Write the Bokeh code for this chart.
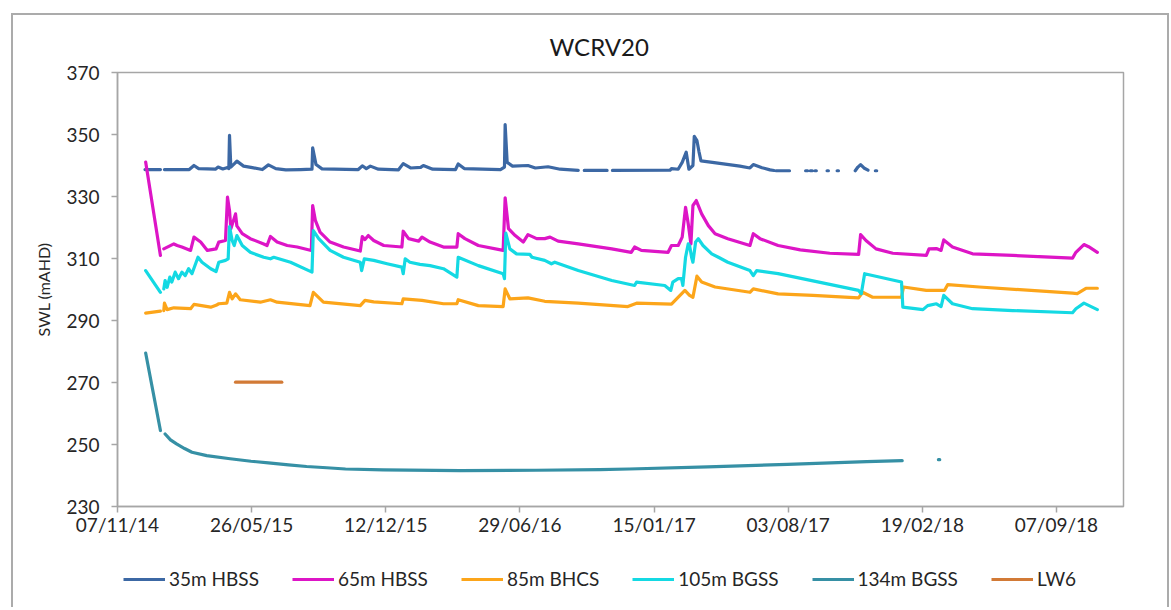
import pandas as pd
from bokeh.plotting import figure
from bokeh.layouts import column
from bokeh.models import Range1d, FixedTicker, DatetimeTickFormatter, Legend, LegendItem
from bokeh.embed import file_html
from bokeh.resources import INLINE

NaN = float("nan")

# ---------------- data ----------------
series_names = ["35m HBSS", "65m HBSS", "85m BHCS", "105m BGSS", "134m BGSS", "LW6"]

h35_dates = [
    "2014-12-18", "2015-01-10", "2015-01-12", "2015-01-16", "2015-02-22", "2015-03-01", "2015-03-08",
    "2015-04-02", "2015-04-06", "2015-04-13", "2015-04-19", "2015-04-22", "2015-04-23", "2015-04-25",
    "2015-04-30", "2015-05-04", "2015-05-14", "2015-05-27", "2015-06-11", "2015-06-20", "2015-07-01",
    "2015-07-16", "2015-08-07", "2015-08-24", "2015-08-25", "2015-08-30", "2015-09-08", "2015-11-01",
    "2015-11-07", "2015-11-13", "2015-11-19", "2015-12-01", "2015-12-31", "2016-01-07", "2016-01-18",
    "2016-02-02", "2016-02-06", "2016-02-20", "2016-03-25", "2016-03-29", "2016-04-07", "2016-05-31",
    "2016-06-06", "2016-06-07", "2016-06-10", "2016-06-18", "2016-07-11", "2016-07-22", "2016-08-10",
    "2016-08-28", "2016-09-24", "2016-09-28", "2016-10-03", "2016-11-06", "2016-11-10", "2016-11-14",
    "2017-02-08", "2017-02-10", "2017-02-20", "2017-02-26", "2017-03-04", "2017-03-08", "2017-03-14",
    "2017-03-16", "2017-03-20", "2017-03-23", "2017-03-26", "2017-04-12", "2017-05-23", "2017-06-07",
    "2017-06-12", "2017-06-25", "2017-07-07", "2017-07-13", "2017-07-14", "2017-07-16", "2017-08-05",
    "2017-08-15", "2017-08-29", "2017-09-01", "2017-09-03", "2017-09-05", "2017-09-08", "2017-09-10",
    "2017-09-12", "2017-09-14", "2017-09-20", "2017-09-30", "2017-10-02", "2017-10-08", "2017-10-15",
    "2017-10-17", "2017-10-25", "2017-11-11", "2017-11-15", "2017-11-19", "2017-11-24", "2017-11-30",
    "2017-12-05", "2017-12-11", "2017-12-13",
]
h35_vals = [
    338.7, 338.7, NaN, 338.7, 338.7, 340.0, 339.0,
    338.8, 339.5, 338.9, 339.3, 339.0, 349.7, 339.5,
    340.5, 341.4, 339.8, 339.3, 338.7, 340.2, 339.0,
    338.6, 338.7, 338.8, 345.7, 340.3, 338.9, 338.7,
    339.9, 339.0, 339.8, 338.8, 338.6, 340.6, 339.2,
    339.4, 340.0, 338.8, 338.7, 340.5, 339.0, 338.7,
    339.5, 353.2, 341.0, 339.8, 340.0, 339.2, 339.6,
    338.8, 338.4, NaN, 338.4, 338.4, NaN, 338.4,
    338.5, 339.0, 338.8, 341.0, 344.3, 338.8, 340.0,
    349.4, 348.0, 344.5, 341.5, 341.0, 339.8, 339.2,
    340.3, 339.3, 338.6, 338.4, NaN, 338.3, 338.3,
    NaN, 338.3, 338.3, NaN, 338.3, 338.3, NaN,
    338.3, 338.3, NaN, 338.3, 338.3, NaN, 338.3,
    338.3, NaN, 338.3, 339.5, 340.3, 339.2, 338.5,
    NaN, 338.3, 338.3,
]

h65_dates = [
    "2014-12-19", "2015-01-10", "2015-01-12", "2015-01-15", "2015-01-30", "2015-02-04", "2015-02-11",
    "2015-02-24", "2015-03-01", "2015-03-11", "2015-03-21", "2015-04-03", "2015-04-07", "2015-04-17",
    "2015-04-20", "2015-04-23", "2015-04-25", "2015-04-29", "2015-05-02", "2015-05-04", "2015-05-12",
    "2015-05-24", "2015-06-13", "2015-06-18", "2015-06-23", "2015-07-03", "2015-07-18", "2015-08-02",
    "2015-08-23", "2015-08-25", "2015-08-29", "2015-09-05", "2015-09-20", "2015-10-10", "2015-11-04",
    "2015-11-07", "2015-11-11", "2015-11-16", "2015-11-24", "2015-12-09", "2016-01-05", "2016-01-07",
    "2016-01-15", "2016-01-30", "2016-02-04", "2016-02-16", "2016-03-07", "2016-03-27", "2016-03-29",
    "2016-04-08", "2016-04-28", "2016-06-04", "2016-06-07", "2016-06-12", "2016-06-22", "2016-07-04",
    "2016-07-11", "2016-07-24", "2016-08-05", "2016-08-13", "2016-08-25", "2016-09-24", "2016-11-13",
    "2016-12-12", "2016-12-17", "2016-12-27", "2017-02-05", "2017-02-10", "2017-02-20", "2017-02-26",
    "2017-03-03", "2017-03-07", "2017-03-11", "2017-03-14", "2017-03-19", "2017-03-27", "2017-04-06",
    "2017-04-16", "2017-05-05", "2017-06-07", "2017-06-12", "2017-06-22", "2017-07-19", "2017-08-21",
    "2017-10-04", "2017-11-16", "2017-11-19", "2017-11-27", "2017-12-12", "2018-01-06", "2018-02-25",
    "2018-03-01", "2018-03-12", "2018-03-19", "2018-03-23", "2018-04-05", "2018-05-05", "2018-07-04",
    "2018-10-01", "2018-10-06", "2018-10-18", "2018-10-25", "2018-11-07",
]
h65_vals = [
    341.1, 311.0, NaN, 313.1, 314.7, 314.2, 313.7,
    312.6, 316.9, 315.3, 312.6, 313.1, 315.3, 315.8,
    329.8, 325.5, 319.6, 322.3, 324.4, 320.5, 318.0,
    316.4, 314.7, 314.2, 317.1, 315.3, 314.2, 313.7,
    312.6, 327.1, 322.3, 318.5, 315.3, 313.7, 312.4,
    317.1, 316.1, 317.4, 315.8, 314.2, 313.7, 318.8,
    316.4, 315.6, 316.9, 315.3, 313.7, 313.7, 318.0,
    316.4, 314.2, 312.6, 329.6, 319.6, 317.4, 315.3,
    317.7, 316.4, 316.4, 316.9, 315.6, 314.7, 313.1,
    312.0, 313.7, 312.6, 312.0, 314.2, 314.2, 316.9,
    326.5, 321.2, 314.7, 327.1, 328.7, 324.4, 320.6,
    318.0, 316.4, 314.2, 318.0, 316.4, 314.2, 312.8,
    311.7, 311.3, 317.7, 315.8, 313.1, 311.7, 311.0,
    313.1, 313.2, 312.6, 316.0, 313.7, 311.5, 311.0,
    310.1, 312.0, 314.5, 313.8, 312.0,
]

h85_dates = [
    "2014-12-19", "2015-01-10", "2015-01-12", "2015-01-15", "2015-01-16", "2015-01-20", "2015-01-30",
    "2015-02-24", "2015-03-01", "2015-03-26", "2015-04-03", "2015-04-07", "2015-04-19", "2015-04-23",
    "2015-04-27", "2015-05-02", "2015-05-09", "2015-06-08", "2015-06-23", "2015-07-03", "2015-08-21",
    "2015-08-26", "2015-09-10", "2015-11-04", "2015-11-11", "2015-11-24", "2016-01-05", "2016-01-07",
    "2016-02-04", "2016-03-07", "2016-03-27", "2016-03-29", "2016-04-28", "2016-06-04", "2016-06-07",
    "2016-06-14", "2016-07-11", "2016-08-05", "2016-09-24", "2016-12-07", "2016-12-20", "2017-02-10",
    "2017-03-02", "2017-03-09", "2017-03-14", "2017-03-20", "2017-03-27", "2017-04-16", "2017-06-07",
    "2017-06-12", "2017-07-19", "2017-09-09", "2017-11-16", "2017-11-22", "2017-12-07", "2018-01-19",
    "2018-01-22", "2018-02-25", "2018-03-24", "2018-03-29", "2018-05-15", "2018-10-01", "2018-10-08",
    "2018-10-21", "2018-11-07",
]
h85_vals = [
    292.4, 293.0, NaN, 293.2, 295.6, 293.5, 294.1,
    293.8, 295.2, 294.3, 294.9, 295.4, 295.6, 299.1,
    297.0, 298.6, 296.7, 295.9, 296.7, 295.9, 294.8,
    299.1, 295.9, 294.8, 296.5, 296.0, 295.4, 297.0,
    296.5, 295.4, 295.4, 296.7, 294.8, 294.5, 300.2,
    297.0, 297.3, 296.2, 295.6, 294.5, 295.6, 295.3,
    299.7, 298.1, 297.5, 304.3, 302.4, 300.8, 299.1,
    300.2, 298.6, 298.1, 297.3, 299.1, 297.5, 297.5,
    300.8, 299.7, 299.7, 301.6, 300.8, 298.8, 298.7,
    300.4, 300.4,
]

h105_dates = [
    "2014-12-19", "2015-01-10", "2015-01-12", "2015-01-15", "2015-01-17", "2015-01-20", "2015-01-24",
    "2015-01-27", "2015-02-01", "2015-02-06", "2015-02-11", "2015-02-16", "2015-02-21", "2015-02-26",
    "2015-03-07", "2015-03-13", "2015-03-26", "2015-04-03", "2015-04-07", "2015-04-17", "2015-04-21",
    "2015-04-23", "2015-04-27", "2015-04-30", "2015-05-04", "2015-05-12", "2015-05-24", "2015-06-13",
    "2015-06-23", "2015-06-28", "2015-07-23", "2015-08-24", "2015-08-26", "2015-09-03", "2015-09-20",
    "2015-10-10", "2015-11-04", "2015-11-06", "2015-11-10", "2015-11-24", "2015-12-14", "2016-01-05",
    "2016-01-07", "2016-01-10", "2016-01-17", "2016-02-01", "2016-02-16", "2016-03-07", "2016-03-27",
    "2016-03-29", "2016-04-28", "2016-06-04", "2016-06-06", "2016-06-08", "2016-06-14", "2016-06-24",
    "2016-07-14", "2016-07-17", "2016-08-05", "2016-08-15", "2016-08-20", "2016-09-24", "2016-11-13",
    "2016-12-17", "2016-12-20", "2017-01-31", "2017-02-09", "2017-02-12", "2017-02-20", "2017-02-25",
    "2017-02-27", "2017-03-03", "2017-03-07", "2017-03-09", "2017-03-12", "2017-03-14", "2017-03-18",
    "2017-03-22", "2017-03-29", "2017-04-11", "2017-04-21", "2017-05-05", "2017-06-07", "2017-06-12",
    "2017-06-17", "2017-07-19", "2017-11-16", "2017-11-20", "2017-11-25", "2018-01-19", "2018-01-21",
    "2018-02-20", "2018-02-27", "2018-03-12", "2018-03-19", "2018-03-23", "2018-04-05", "2018-05-05",
    "2018-07-04", "2018-10-01", "2018-10-06", "2018-10-18", "2018-11-07",
]
h105_vals = [
    306.1, 299.1, NaN, 300.2, 302.9, 300.7, 304.0,
    302.4, 305.6, 303.5, 305.6, 304.5, 306.7, 305.1,
    310.4, 308.8, 306.7, 305.8, 308.8, 309.4, 309.9,
    320.3, 315.8, 314.2, 317.4, 314.2, 312.0, 310.4,
    309.9, 310.4, 308.8, 305.6, 319.0, 316.4, 312.6,
    310.4, 308.8, 306.1, 309.9, 309.4, 308.3, 307.2,
    305.1, 309.9, 308.8, 308.1, 307.7, 306.7, 304.0,
    310.4, 307.7, 305.1, 303.5, 318.2, 313.1, 311.5,
    311.3, 310.4, 309.4, 308.3, 308.8, 306.1, 302.9,
    301.3, 302.4, 301.3, 299.7, 302.4, 303.5, 303.5,
    301.3, 310.4, 314.7, 314.2, 310.4, 308.8, 315.3,
    316.4, 314.2, 311.5, 310.4, 308.8, 306.1, 304.5,
    306.1, 305.1, 299.7, 298.6, 305.1, 302.4, 294.3,
    293.5, 294.8, 295.4, 294.5, 298.1, 295.4, 293.8,
    293.2, 292.5, 293.8, 295.6, 293.5,
]

h134_dates = [
    "2014-12-19", "2015-01-10", "2015-01-12", "2015-01-17", "2015-01-25", "2015-02-03", "2015-02-15",
    "2015-02-26", "2015-03-20", "2015-04-24", "2015-05-25", "2015-06-20", "2015-07-20", "2015-08-16",
    "2015-09-15", "2015-10-13", "2015-12-08", "2016-04-01", "2016-07-23", "2016-10-26", "2016-12-09",
    "2017-04-05", "2017-08-02", "2017-11-28", "2018-01-20", "2018-02-01", "2018-03-15", "2018-03-17",
]
h134_vals = [
    279.5, 254.5, NaN, 253.4, 251.5, 250.2, 248.7,
    247.5, 246.4, 245.4, 244.6, 244.1, 243.4, 242.9,
    242.5, 242.1, 241.8, 241.6, 241.7, 241.9, 242.1,
    242.8, 243.6, 244.5, 244.8, NaN, 245.1, 245.1,
]

lw6_dates = ["2015-05-02", "2015-07-10"]
lw6_vals = [270.1, 270.1]

tick_dates = ["2014-11-07", "2015-05-26", "2015-12-12", "2016-06-29",
              "2017-01-15", "2017-08-03", "2018-02-19", "2018-09-07"]
y_ticks = [230, 250, 270, 290, 310, 330, 350, 370]
x_start, x_end = "2014-11-07", "2018-12-16"

colors = ["#3c68a4", "#dd15c6", "#fca51a", "#14d9e3", "#3690a5", "#d27a36"]

# ---------------- figure ----------------
FONT = "Lato"
TXT = "#262626"

p = figure(
    width=1154, height=536,
    x_axis_type="datetime",
    x_range=Range1d(pd.Timestamp(x_start), pd.Timestamp(x_end)),
    y_range=Range1d(min(y_ticks), max(y_ticks)),
    output_backend="svg", toolbar_location=None,
    min_border_left=104, min_border_right=44, min_border_top=57, min_border_bottom=45,
    title="WCRV20",
)

p.title.align = "left"
p.title.offset = 432
p.title.standoff = 23
p.title.text_font = FONT
p.title.text_font_size = "24px"
p.title.text_font_style = "normal"
p.title.text_color = "#1a1a1a"

p.outline_line_color = "#a6a6a6"
p.outline_line_width = 1.5
p.xgrid.visible = False
p.ygrid.visible = False

tick_ms = [pd.Timestamp(d).value / 1e6 for d in tick_dates]
p.xaxis.ticker = FixedTicker(ticks=tick_ms)
fmt = "%d/%m/%y"
p.xaxis.formatter = DatetimeTickFormatter(days=fmt, months=fmt, years=fmt, hours=fmt,
                                          minutes=fmt, seconds=fmt, milliseconds=fmt,
                                          microseconds=fmt, hourmin=fmt, minsec=fmt)
p.yaxis.ticker = FixedTicker(ticks=y_ticks)

for ax in (p.xaxis[0], p.yaxis[0]):
    ax.axis_line_color = "#a6a6a6"
    ax.axis_line_width = 1.5
    ax.major_tick_line_color = "#a6a6a6"
    ax.major_tick_line_width = 1.5
    ax.major_tick_out = 6
    ax.major_tick_in = 0
    ax.minor_tick_line_color = None
    ax.major_label_text_font = FONT
    ax.major_label_text_font_size = "19px"
    ax.major_label_text_color = TXT
p.xaxis.major_label_standoff = 0
p.yaxis.major_label_standoff = 12

p.yaxis.axis_label = "SWL (mAHD)"
p.yaxis.axis_label_text_font = FONT
p.yaxis.axis_label_text_font_size = "16px"
p.yaxis.axis_label_text_font_style = "normal"
p.yaxis.axis_label_text_color = TXT
p.yaxis.axis_label_standoff = 10

all_dates = [h35_dates, h65_dates, h85_dates, h105_dates, h134_dates, lw6_dates]
all_vals = [h35_vals, h65_vals, h85_vals, h105_vals, h134_vals, lw6_vals]

for d, v, c in zip(all_dates, all_vals, colors):
    p.line(pd.to_datetime(d), v, line_color=c, line_width=3.2,
           line_cap="round", line_join="round")

# ---------------- legend strip below the chart ----------------
lf = figure(width=1154, height=56, x_range=Range1d(0, 1), y_range=Range1d(0, 1),
            output_backend="svg", toolbar_location=None,
            x_axis_location=None, y_axis_location=None,
            min_border_left=0, min_border_right=0, min_border_top=0, min_border_bottom=0)
lf.outline_line_color = None
lf.grid.visible = False

items = []
for name, c in zip(series_names, colors):
    # legend-only renderer, kept outside the visible range of the strip
    r = lf.line(x=[5, 6], y=[5, 6], line_color=c, line_width=3.2)
    items.append(LegendItem(label=name, renderers=[r]))

legend = Legend(items=items, orientation="horizontal", location=(6, 17),
                glyph_width=42, glyph_height=20, label_standoff=4, spacing=33,
                label_text_font=FONT, label_text_font_size="19px",
                label_text_color=TXT,
                border_line_color=None, background_fill_alpha=0,
                margin=0, padding=0)
lf.add_layout(legend, "center")

layout = column(p, lf, spacing=0)
layout.margin = (13, 0, 0, 11)
layout.styles = {"border-top": "2px solid #ababab", "border-left": "2px solid #ababab",
                 "border-right": "2px solid #ababab"}

open("out.html", "w").write(file_html(layout, INLINE))
